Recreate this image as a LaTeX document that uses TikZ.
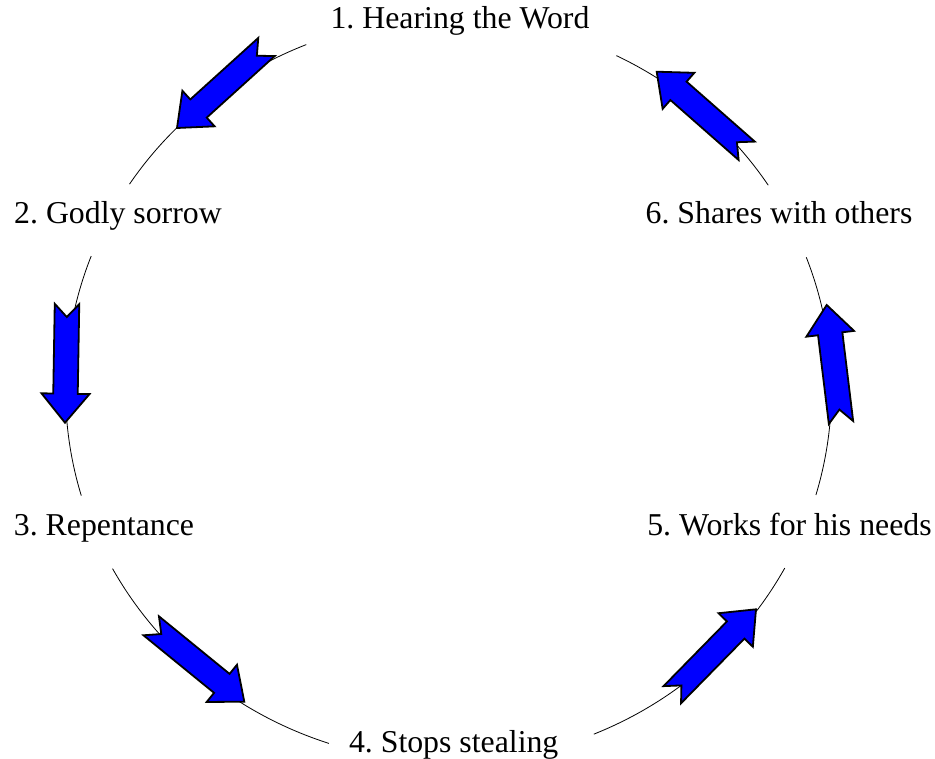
\documentclass[tikz,border=0pt]{standalone}
\usepackage{fontspec}
\setmainfont{Liberation Serif}
\usetikzlibrary{calc}
\frenchspacing
\tikzset{
  ring/.style={draw=black,line width=0.8pt},
  blockarrow/.style={fill={rgb,255:red,0;green,0;blue,255},draw=black,line width=1.8pt,line join=miter},
  lbl/.style={anchor=base,inner sep=0pt,font=\fontsize{31.8}{38}\selectfont}
}
\newcommand\flowarrow[2]{%
  \coordinate (hb) at ($(#2)!29pt!(#1)$);
  \filldraw[blockarrow] ($(#1)!12.25pt!90:(#2)$) -- ($(hb)!12.25pt!90:(#2)$) -- ($(hb)!24pt!90:(#2)$) -- (#2)
    -- ($(hb)!24pt!-90:(#2)$) -- ($(hb)!12.25pt!-90:(#2)$) -- ($(#1)!12.25pt!-90:(#2)$) -- ($(#1)!13pt!(#2)$) -- cycle;
}
\begin{document}
\begin{tikzpicture}[x=1pt,y=-1pt]
\useasboundingbox (0,0) rectangle (935,759);
\coordinate (C) at (448.5,390);
% ring arcs
\foreach \a/\b in {111.8/146.4, 158.9/196.5, 208.7/251.8, 292.3/331.4, 343.6/380.9, 33.4/64}{
  \draw[ring] (C) ++(\a:383pt and 372pt) arc[start angle=\a, end angle=\b, x radius=383pt, y radius=372pt];
}
% labels
\node[lbl] (l1) at (460,29) {1. Hearing the Word};
\node[lbl] (l2) at (118,224) {2. Godly sorrow};
\node[lbl] (l3) at (104,535) {3. Repentance};
\node[lbl] (l4) at (453.7,752) {4. Stops stealing};
\node[lbl] (l5) at (789.5,535) {5. Works for his needs};
\node[lbl] (l6) at (779,224) {6. Shares with others};
% arrows
\coordinate (t1) at (266.5,47);   \coordinate (p1) at (177,128);
\coordinate (t2) at (67,304);     \coordinate (p2) at (65,422.7);
\coordinate (t3) at (151.2,625.8);\coordinate (p3) at (244.3,701.7);
\coordinate (t4) at (672.3,694.7);\coordinate (p4) at (756,609.3);
\coordinate (t5) at (841,422.5);  \coordinate (p5) at (826.7,305);
\coordinate (t6) at (746.7,150.8);\coordinate (p6) at (656.7,71.7);
\flowarrow{t1}{p1}
\flowarrow{t2}{p2}
\flowarrow{t3}{p3}
\flowarrow{t4}{p4}
\flowarrow{t5}{p5}
\flowarrow{t6}{p6}
\end{tikzpicture}
\end{document}
